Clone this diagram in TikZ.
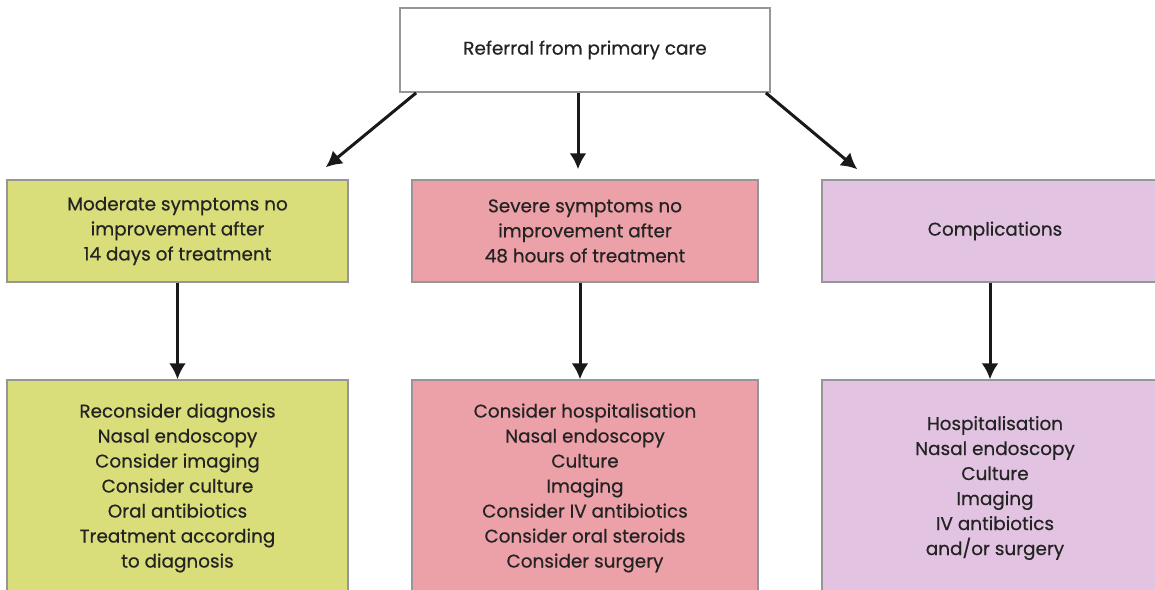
\documentclass[tikz,border=0pt]{standalone}
\usepackage{fontspec}
\setmainfont{Poppins}[FakeBold=0.5]
\usepackage{xcolor}
\usetikzlibrary{calc, arrows.meta}

\definecolor{modfill}{RGB}{217,222,122}
\definecolor{sevfill}{RGB}{236,160,168}
\definecolor{compfill}{RGB}{226,196,226}
\definecolor{boxline}{RGB}{150,150,150}
\definecolor{txt}{RGB}{35,35,35}

\tikzset{
	box/.style = {draw = boxline, line width = 0.7pt, align = center, text = txt, inner sep = 0pt,
		font = \fontsize{9.2}{12.5}\selectfont},
	arr/.style = {draw = black!90, line width = 1.5pt, -{Latex[length = 8pt, width = 8.5pt]}}
}

\begin{document}
\begin{tikzpicture}[x = 0.5pt, y = -0.5pt]
					\def\wl{170.5pt};
					\def\wr{173pt};
					
					\useasboundingbox (0,0) rectangle (1155,589);
					
					\node [box, fill = white, line width = 0.9pt, minimum width = 185pt, minimum height = 42pt] (ref) at (585,50) {Referral from primary care};
					
					\begin{scope}
						\node [box, fill = modfill, minimum width = \wl, minimum height = 51pt] (mod) at (177.5,231) {Moderate symptoms no\\improvement after\\14 days of treatment};
						\node [box, fill = sevfill, minimum width = \wr, minimum height = 51pt] (sev) at (585,231) {Severe symptoms no\\improvement after\\48 hours of treatment};
						\node [box, fill = compfill, minimum width = \wr, minimum height = 51pt] (comp) at (995,231) {Complications};
					\end{scope}
					
					\begin{scope}
						\node [box, fill = modfill, minimum width = \wl, minimum height = 108pt] (modx) at (177.5,488) {Reconsider diagnosis\\Nasal endoscopy\\Consider imaging\\Consider culture\\Oral antibiotics\\Treatment according\\to diagnosis};
						\node [box, fill = sevfill, minimum width = \wr, minimum height = 108pt] (sevx) at (585,488) {Consider hospitalisation\\Nasal endoscopy\\Culture\\Imaging\\Consider IV antibiotics\\Consider oral steroids\\Consider surgery};
						\node [box, fill = compfill, minimum width = \wr, minimum height = 108pt] (compx) at (995,488) {Hospitalisation\\Nasal endoscopy\\Culture\\Imaging\\IV antibiotics\\and/or surgery};
					\end{scope}
					
					% arrows
					\draw [arr] ($ (ref.south west) + (17,0) $) -- ($ (mod.north east) + (-23,-12) $);
					\draw [arr] ($ (ref.south) + (-7,0) $) -- ($ (sev.north) + (-7,-10) $);
					\draw [arr] ($ (ref.south east) + (-5,0) $) -- ($ (comp.north west) + (36,-10) $);
					
					\draw [arr] (mod.south) -- (modx.north);
					\draw [arr] ($ (sev.south) + (-5,0) $) -- ($ (sevx.north) + (-5,0) $);
					\draw [arr] ($ (comp.south) + (-5,0) $) -- ($ (compx.north) + (-5,0) $);
				\end{tikzpicture}
\end{document}
